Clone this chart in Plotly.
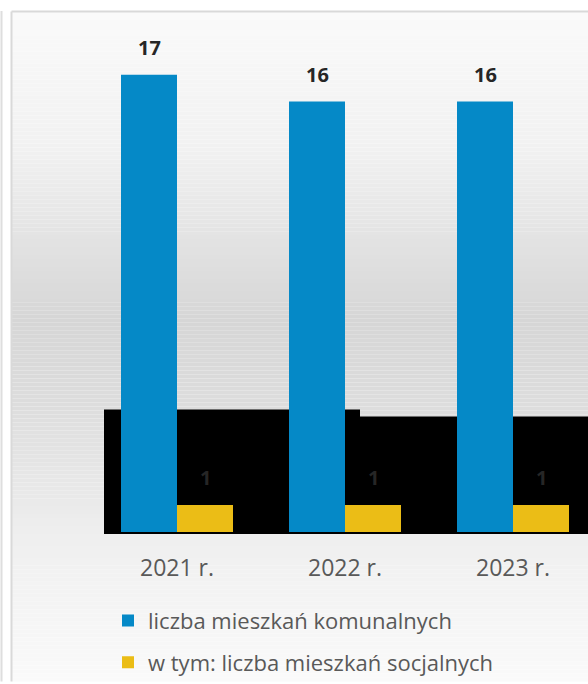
import plotly.graph_objects as go

categories = ["2021 r.", "2022 r.", "2023 r."]
komunalne = [17, 16, 16]
socjalne = [1, 1, 1]
series_names = ["liczba mieszkań komunalnych", "w tym: liczba mieszkań socjalnych"]

W, H = 588, 684
AXIS_PY = 534  # pixel row of the category axis
PX_PER_UNIT = 27

def px_x(px):
    return px / W

def px_y(py):
    return (AXIS_PY - py) / AXIS_PY

FONT = "Open Sans"

fig = go.Figure()
fig.add_trace(go.Bar(
    x=categories, y=komunalne, name=series_names[0],
    marker=dict(color="#0589c7", line=dict(width=0)),
    legendgroup="a", hoverinfo="skip",
))
fig.add_trace(go.Bar(
    x=categories, y=socjalne, name=series_names[1],
    marker=dict(color="#ebbd16", line=dict(width=0)),
    legendgroup="b", hoverinfo="skip",
))

annotations = []
for c, v in zip(categories, komunalne):
    annotations.append(dict(x=c, y=v, xref="x", yref="y", text=f"<b>{v}</b>",
                            showarrow=False, xshift=-28, yshift=12, yanchor="bottom",
                            font=dict(family=FONT, size=20, color="#262626")))
for c, v in zip(categories, socjalne):
    annotations.append(dict(x=c, y=v, xref="x", yref="y", text=f"<b>{v}</b>",
                            showarrow=False, xshift=28, yshift=12, yanchor="bottom",
                            font=dict(family=FONT, size=20, color="#262626")))

# background gradient (light - darker - light)
stops = [(12, 250), (150, 241), (270, 222), (320, 214), (400, 220), (540, 239), (684, 250)]
def grey_at(py):
    for (y0, g0), (y1, g1) in zip(stops[:-1], stops[1:]):
        if y0 <= py <= y1:
            t = (py - y0) / (y1 - y0)
            return round(g0 + (g1 - g0) * t)
    return 250

shapes = []
shapes.append(dict(type="rect", xref="paper", yref="paper", x0=px_x(0), x1=px_x(W),
                   y0=px_y(H), y1=px_y(0), fillcolor="white", line=dict(width=0), layer="below"))
step = 4
py = 12
while py < H:
    g = grey_at(py + step / 2)
    shapes.append(dict(type="rect", xref="paper", yref="paper", x0=px_x(12), x1=px_x(W),
                       y0=px_y(min(py + step, H)), y1=px_y(py),
                       fillcolor=f"rgb({g},{g},{g})", line=dict(width=0), layer="below"))
    py += step
# frame lines
shapes.append(dict(type="line", xref="paper", yref="paper", x0=px_x(11.5), x1=px_x(W),
                   y0=px_y(11.5), y1=px_y(11.5), line=dict(color="#d9d9d9", width=2), layer="below"))
shapes.append(dict(type="line", xref="paper", yref="paper", x0=px_x(11.5), x1=px_x(11.5),
                   y0=px_y(11.5), y1=px_y(H), line=dict(color="#d9d9d9", width=2), layer="below"))
shapes.append(dict(type="line", xref="paper", yref="paper", x0=px_x(1.5), x1=px_x(1.5),
                   y0=px_y(11), y1=px_y(H), line=dict(color="#dedede", width=2), layer="below"))
# black blocks behind the lower part of the bars
shapes.append(dict(type="rect", xref="paper", yref="paper", x0=px_x(104), x1=px_x(360),
                   y0=px_y(536), y1=px_y(411), fillcolor="black", line=dict(width=0), layer="below"))
shapes.append(dict(type="rect", xref="paper", yref="paper", x0=px_x(360), x1=px_x(W),
                   y0=px_y(536), y1=px_y(418), fillcolor="black", line=dict(width=0), layer="below"))

fig.update_layout(
    width=W, height=H,
    margin=dict(l=0, r=0, t=0, b=H - AXIS_PY, pad=0),
    paper_bgcolor="rgba(0,0,0,0)", plot_bgcolor="rgba(0,0,0,0)",
    barmode="group", bargap=1/3, bargroupgap=0,
    shapes=shapes, annotations=annotations,
    font=dict(family=FONT, color="#595959"),
    xaxis=dict(range=[-177/168, (W - 177)/168], showgrid=False, zeroline=False,
               showline=False, ticks="", tickfont=dict(family=FONT, size=23, color="#595959"),
               ticklabelstandoff=20),
    yaxis=dict(range=[0, AXIS_PY / PX_PER_UNIT], visible=False),
    showlegend=True,
    legend=dict(orientation="v", x=px_x(108), xanchor="left", y=px_y(602), yanchor="top",
                font=dict(family=FONT, size=22, color="#595959"),
                bgcolor="rgba(0,0,0,0)", traceorder="grouped", tracegroupgap=10),
    hovermode=False,
)

fig.write_html("out.html", config={"displayModeBar": False},
               post_script="document.body.style.margin='0';")
